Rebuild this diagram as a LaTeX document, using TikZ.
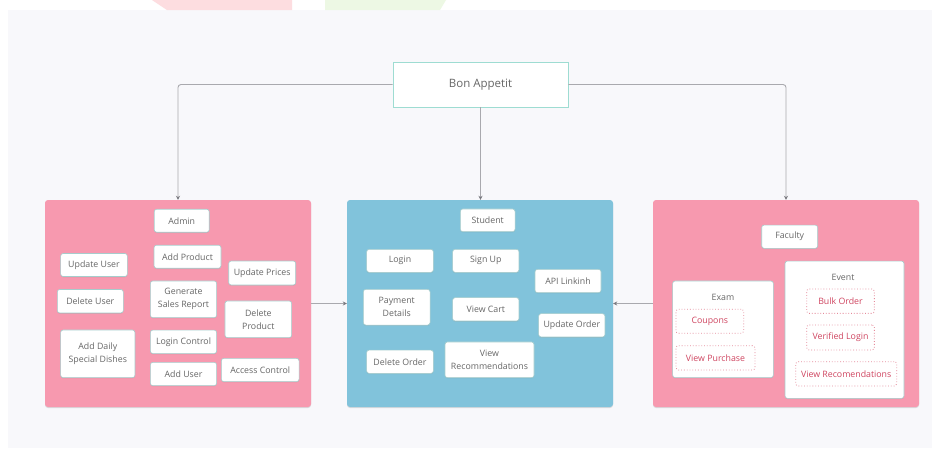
\documentclass[tikz,border=0pt]{standalone}
\usepackage{fontspec}
\setmainfont{Open Sans}
\usetikzlibrary{arrows.meta,shadows}
\definecolor{bgc}{HTML}{F8F8FB}
\definecolor{pinkc}{HTML}{F799AF}
\definecolor{bluec}{HTML}{81C3DB}
\definecolor{linec}{HTML}{A9A9AE}
\definecolor{tipc}{HTML}{7A7A80}
\definecolor{tealb}{HTML}{9EDCD2}
\definecolor{itemb}{HTML}{A6CCCC}
\definecolor{textg}{HTML}{666666}
\definecolor{dashb}{HTML}{E58A9A}
\definecolor{dasht}{HTML}{CF4560}
\definecolor{toppink}{HTML}{FDDDE0}
\definecolor{topgreen}{HTML}{EDF8E4}
\tikzset{
  panel/.style={rounded corners=3pt, inner sep=0pt, draw=none,
    drop shadow={shadow xshift=0pt, shadow yshift=-1pt, opacity=0.25}},
  item/.style={draw=itemb, line width=0.6pt, fill=white, rounded corners=2.5pt,
    text=textg, font=\fontsize{8.8}{13}\selectfont, inner sep=0pt, align=center,
    drop shadow={shadow xshift=0pt, shadow yshift=-0.8pt, opacity=0.2}},
  ditem/.style={draw=dashb, dotted, line width=0.8pt, fill=white, rounded corners=2.5pt,
    text=dasht, font=\fontsize{8.8}{13}\selectfont, inner sep=0pt, align=center},
  group/.style={draw=itemb, line width=0.6pt, fill=white, rounded corners=2.5pt, inner sep=0pt,
    drop shadow={shadow xshift=0pt, shadow yshift=-0.8pt, opacity=0.2}},
  glabel/.style={text=textg, font=\fontsize{8.8}{11}\selectfont, inner sep=0pt},
  conn/.style={draw=linec, line width=0.9pt, rounded corners=3pt,
    -{Stealth[length=4pt,width=4pt,color=tipc]}},
}
\begin{document}
\begin{tikzpicture}[x=1pt,y=-1pt]
\useasboundingbox (0,0) rectangle (932,448);
\fill[white] (0,0) rectangle (932,448);
\fill[bgc] (8,10) rectangle (932,448);
\fill[toppink] (152,0) -- (292,0) -- (292,10) -- (167,10) -- cycle;
\fill[topgreen] (325,0) -- (446,0) -- (440,10) -- (325,10) -- cycle;

% title
\node[draw=tealb, line width=0.8pt, fill=white, minimum width=175pt, minimum height=45pt,
  inner sep=0pt, text=textg, font=\fontsize{11.5}{13}\selectfont] (bon) at (480.5,84.5) {Bon Appetit};

% panels
\node[panel, fill=pinkc, minimum width=266pt, minimum height=207pt] (p1) at (178,303.5) {};
\node[panel, fill=bluec, minimum width=266pt, minimum height=207pt] (p2) at (480,303.5) {};
\node[panel, fill=pinkc, minimum width=266pt, minimum height=207pt] (p3) at (786,303.5) {};

% connectors
\draw[conn] (bon.west) -| (p1.north);
\draw[conn] (bon.east) -| (p3.north);
\draw[conn] (bon.south) -- (bon.south |- p2.north);
\draw[conn] (p1.east) -- (p2.west);
\draw[conn] (p3.west) -- (p2.east);

% admin panel
\node[item, minimum width=55pt, minimum height=23pt] (admin) at (181.7,220.7) {Admin};
\node[item, minimum width=67pt, minimum height=23pt] (addprod) at (187.5,256.7) {Add Product};
\node[item, minimum width=66.7pt, minimum height=23pt] (upuser) at (94,265) {Update User};
\node[item, minimum width=67pt, minimum height=24pt] (upprice) at (262.2,273) {Update Prices};
\node[item, minimum width=66pt, minimum height=23.5pt] (deluser) at (90.3,301.2) {Delete User};
\node[item, minimum width=66.3pt, minimum height=36.7pt] (gensales) at (183.5,299.3) {Generate\\Sales Report};
\node[item, minimum width=66.7pt, minimum height=36.7pt] (delprod) at (258.3,319.3) {Delete\\Product};
\node[item, minimum width=74.3pt, minimum height=47.7pt] (daily) at (97.8,353.8) {Add Daily\\Special Dishes};
\node[item, minimum width=66.3pt, minimum height=23.5pt] (logctl) at (183.5,341.8) {Login Control};
\node[item, minimum width=66.3pt, minimum height=23.3pt] (adduser) at (183.5,374) {Add User};
\node[item, minimum width=77.7pt, minimum height=23.3pt] (access) at (260.2,370) {Access Control};

% student panel
\node[item, minimum width=54.7pt, minimum height=22.7pt] (student) at (487.7,220.3) {Student};
\node[item, minimum width=66.7pt, minimum height=23pt] (login) at (400,260.8) {Login};
\node[item, minimum width=66.3pt, minimum height=23pt] (signup) at (485.8,260.8) {Sign Up};
\node[item, minimum width=66pt, minimum height=23.3pt] (api) at (568,281) {API Linkinh};
\node[item, minimum width=66.7pt, minimum height=35.7pt] (payment) at (396.7,307.2) {Payment\\Details};
\node[item, minimum width=66.3pt, minimum height=23.3pt] (cart) at (485.8,309.3) {View Cart};
\node[item, minimum width=66.3pt, minimum height=23.3pt] (uporder) at (571.8,325.3) {Update Order};
\node[item, minimum width=66.7pt, minimum height=23.3pt] (delorder) at (400,361.7) {Delete Order};
\node[item, minimum width=89pt, minimum height=35.7pt] (viewrec) at (489.5,359.8) {View\\Recommendations};

% faculty panel
\node[item, minimum width=56pt, minimum height=23.3pt] (faculty) at (789.7,236.7) {Faculty};
\node[group, minimum width=100.7pt, minimum height=96.7pt] (exam) at (723,329.3) {};
\node[glabel] (examl) at (723,297) {Exam};
\node[ditem, minimum width=67.7pt, minimum height=24pt] (coupons) at (709.8,321.3) {Coupons};
\node[ditem, minimum width=79pt, minimum height=24.3pt] (vpurch) at (715.5,357.8) {View Purchase};
\node[group, minimum width=119pt, minimum height=137.3pt] (event) at (844.5,329.7) {};
\node[glabel] (eventl) at (843,277) {Event};
\node[ditem, minimum width=67.7pt, minimum height=24.3pt] (bulk) at (840.5,301.2) {Bulk Order};
\node[ditem, minimum width=67.7pt, minimum height=25pt] (verif) at (840.5,337.5) {Verified Login};
\node[ditem, minimum width=101pt, minimum height=24.3pt] (vrecom) at (846.2,373.8) {View Recomendations};
\end{tikzpicture}
\end{document}
